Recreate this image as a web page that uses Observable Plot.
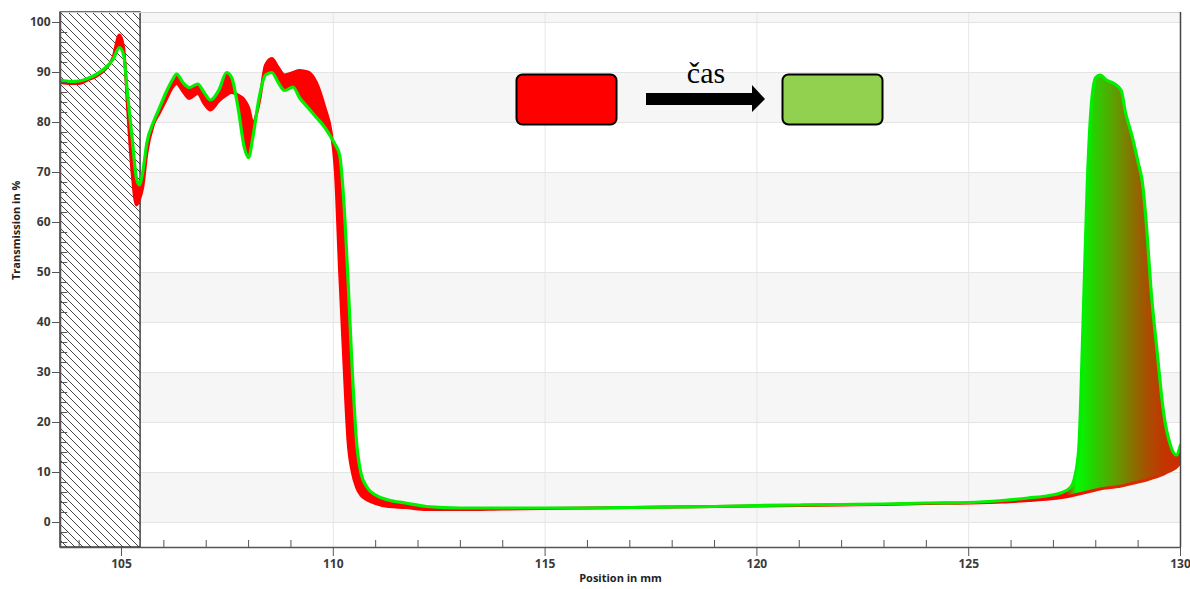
<!DOCTYPE html>
<html>
<head>
<meta charset="utf-8">
<script src="https://cdn.jsdelivr.net/npm/d3@7"></script>
<script src="https://cdn.jsdelivr.net/npm/@observablehq/plot@0.6"></script>
<style>
  html, body { margin: 0; padding: 0; background: #fff; }
  #wrap { position: relative; width: 1190px; height: 589px; }
  #overlay { position: absolute; left: 0; top: 0; pointer-events: none; }
</style>
</head>
<body>
<div id="wrap"></div>
<script>
// ---- data ----
const positionMm = [103.56, 103.8, 104.0, 104.2, 104.4, 104.6, 104.8, 104.95, 105.05, 105.15, 105.25, 105.35, 105.42,
  105.5, 105.6, 105.75, 105.9, 106.05, 106.2, 106.3, 106.45, 106.6, 106.8, 106.95, 107.1, 107.3, 107.48, 107.6, 107.75,
  107.9, 108.0, 108.1, 108.25, 108.4, 108.55, 108.7, 108.85, 109.05, 109.2, 109.4, 109.6, 109.8, 109.95, 110.05, 110.15,
  110.25, 110.35, 110.45, 110.55, 110.65, 110.8, 111.0, 111.3, 111.7, 112.2, 113, 114, 115, 116, 117, 118, 119, 120, 121,
  122, 123, 124, 125, 125.8, 126.4, 126.9, 127.2, 127.4, 127.5, 127.6, 127.7, 127.8, 127.9, 128.0, 128.1, 128.25, 128.45,
  128.6, 128.7, 128.85, 129.0, 129.1, 129.2, 129.3, 129.45, 129.6, 129.75, 129.9, 130.0];

// earliest measurement (red)
const earliest = [88, 87.8, 87.8, 88.5, 89.2, 90.5, 93, 97.5, 95, 82, 70, 63.5, 64.5,
  67, 74, 79.5, 82, 84.5, 87, 87.8, 86.2, 84.8, 85.8, 83.8, 82.5, 84.3, 85.5, 86, 85.5,
  84.5, 83, 80, 84, 91.5, 92.8, 91, 89.5, 90, 90.4, 90.1, 88, 83, 78, 70, 50,
  32, 16, 10, 7, 5.5, 4.5, 3.8, 3.2, 3.0, 2.6, 2.6, 2.7, 2.8, 2.9, 3.0, 3.1, 3.2, 3.3, 3.4,
  3.5, 3.6, 3.8, 3.9, 4.1, 4.4, 4.7, 5.0, 5.3, 5.5, 5.7, 5.9, 6.1, 6.3, 6.5, 6.7, 6.9, 7.1,
  7.3, 7.5, 7.8, 8.1, 8.3, 8.5, 8.8, 9.2, 9.7, 10.3, 11.0, 12.0];

// latest measurement (green)
const latest = [88.5, 88.2, 88.3, 88.8, 89.6, 90.8, 92.6, 95.0, 93.5, 85, 77, 69, 67.5,
  70, 76, 80, 83, 86, 88.5, 89.7, 88, 87, 87.7, 86, 84.5, 86.5, 90, 89, 83,
  75, 73, 77, 85, 89.5, 90, 88, 86.4, 87.1, 85, 83, 81, 79, 77, 75.5, 73.5,
  64, 48, 30, 16, 10, 7, 5.5, 4.5, 3.9, 3.2, 2.9, 2.9, 2.9, 2.9, 3.0, 3.1, 3.2, 3.4, 3.5,
  3.6, 3.7, 3.9, 4.0, 4.4, 4.9, 5.4, 6.0, 7.0, 9, 15, 40, 68, 84, 89, 89.5, 88.5, 87.7,
  86.4, 82, 77.5, 72, 68, 59, 47, 34, 22, 15.8, 13.5, 15.5];

const xTicks = [105, 110, 115, 120, 125, 130];
const yTicks = [0, 10, 20, 30, 40, 50, 60, 70, 80, 90, 100];
const xMinorTicks = [104, 106, 107, 108, 109, 111, 112, 113, 114, 116, 117, 118, 119, 121, 122, 123, 124, 126, 127, 128, 129];
const yMinorTicks = [-4, -2, 2, 4, 6, 8, 12, 14, 16, 18, 22, 24, 26, 28, 32, 34, 36, 38, 42, 44, 46, 48, 52, 54, 56, 58, 62, 64, 66, 68, 72, 74, 76, 78, 82, 84, 86, 88, 92, 94, 96, 98];
const bandStarts = [0, 20, 40, 60, 80, 100];
const maskedZone = [{from: 103.56, to: 105.45}];
const xDomain = [103.56, 130];
const yDomain = [-5, 102];

// colour ramp of the fan (position -> colour)
const fanStops = [[103.56, "#ff0000"], [127.3, "#ff0000"], [127.55, "#00ff00"], [127.9, "#1fd800"], [128.4, "#58a400"],
  [128.8, "#807a00"], [129.2, "#a65200"], [129.6, "#c23600"], [130, "#d02a00"]];

const rows = positionMm.map((p, i) => ({pos: p, early: earliest[i], late: latest[i]}));

const font = "'Open Sans', 'DejaVu Sans', sans-serif";

const plot = Plot.plot({
  width: 1190,
  height: 589,
  marginTop: 12,
  marginBottom: 42,
  marginLeft: 60,
  marginRight: 10,
  style: {fontFamily: font, fontSize: "12px", fontWeight: "700", color: "#3a3a3a", background: "#fff"},
  x: {domain: xDomain},
  y: {domain: yDomain},
  marks: [
    Plot.rect(bandStarts, {x1: xDomain[0], x2: xDomain[1], y1: d => d, y2: d => Math.min(d + 10, yDomain[1]), fill: "#f6f6f6"}),
    Plot.ruleY(yTicks, {stroke: "#e4e4e4", strokeWidth: 1}),
    Plot.ruleX([110, 115, 120, 125], {stroke: "#e6e6e6", strokeWidth: 1}),
    Plot.rect(maskedZone, {x1: "from", x2: "to", y1: yDomain[0], y2: yDomain[1], fill: "url(#hatch)", stroke: "#222", strokeWidth: 1.3}),
    Plot.areaY(rows, {x: "pos", y1: "early", y2: "late", fill: "url(#fanGrad)", curve: "monotone-x", clip: true}),
    Plot.line(rows, {x: "pos", y: "early", stroke: "url(#redGrad)", strokeWidth: 3, curve: "monotone-x", clip: true}),
    Plot.line(rows, {x: "pos", y: "late", stroke: "#00f000", strokeWidth: 3.2, curve: "monotone-x", clip: true}),
    Plot.ruleY([yDomain[1]], {stroke: "#d0d0d0"}),
    Plot.ruleX([xDomain[1]], {stroke: "#444", strokeWidth: 1.5}),
    Plot.ruleX([xDomain[0]], {stroke: "#555", strokeWidth: 1.5}),
    Plot.ruleY([yDomain[0]], {stroke: "#555", strokeWidth: 1.5}),
    Plot.ruleX(xMinorTicks, {y1: yDomain[0], y2: yDomain[0] + 1.4, stroke: "#555"}),
    Plot.ruleY(yMinorTicks, {x1: xDomain[0], x2: xDomain[0] + 0.17, stroke: "#555"}),
    Plot.axisX({ticks: xTicks, tickSize: 9, tickPadding: 3, label: null, stroke: "#555"}),
    Plot.axisY({ticks: yTicks, tickSize: 8, tickPadding: 2, label: null, stroke: "#555"}),
    Plot.text(["Position in mm"], {frameAnchor: "bottom", dy: 34, fontSize: 11, fontWeight: "bold", fill: "#222"}),
    Plot.text(["Transmission in %"], {frameAnchor: "left", dx: -44, rotate: -90, fontSize: 11, fontWeight: "bold", fill: "#222"})
  ]
});

// gradients and hatch pattern
const xs = plot.scale("x");
const gx1 = xs.apply(xDomain[0]), gx2 = xs.apply(xDomain[1]);
const stopHtml = fanStops.map(([v, c]) => `<stop offset="${((xs.apply(v) - gx1) / (gx2 - gx1)).toFixed(4)}" stop-color="${c}"/>`).join("");
const redStopHtml = [[103.56, "#ff0000"], [127.0, "#ff0000"], [128.5, "#e02800"], [130, "#cc3000"]]
  .map(([v, c]) => `<stop offset="${((xs.apply(v) - gx1) / (gx2 - gx1)).toFixed(4)}" stop-color="${c}"/>`).join("");
const defs = document.createElementNS("http://www.w3.org/2000/svg", "defs");
defs.innerHTML = `
  <linearGradient id="fanGrad" gradientUnits="userSpaceOnUse" x1="${gx1}" y1="0" x2="${gx2}" y2="0">${stopHtml}</linearGradient>
  <linearGradient id="redGrad" gradientUnits="userSpaceOnUse" x1="${gx1}" y1="0" x2="${gx2}" y2="0">${redStopHtml}</linearGradient>
  <pattern id="hatch" patternUnits="userSpaceOnUse" width="8" height="8">
    <rect width="8" height="8" fill="#fff"/>
    <path d="M-1,-1 L9,9 M-1,7 L1,9 M7,-1 L9,1" stroke="#444" stroke-width="1"/>
  </pattern>`;
plot.insertBefore(defs, plot.firstChild);

const wrap = document.getElementById("wrap");
wrap.appendChild(plot);

// time legend (annotation)
const overlay = document.createElementNS("http://www.w3.org/2000/svg", "svg");
overlay.setAttribute("id", "overlay");
overlay.setAttribute("width", 1190);
overlay.setAttribute("height", 589);
overlay.innerHTML = `
  <rect x="516.5" y="74.5" width="100" height="50" rx="6" fill="#ff0000" stroke="#000" stroke-width="2"/>
  <polygon points="646,93 752,93 752,85 765,99 752,112 752,105 646,105" fill="#000"/>
  <text x="706" y="83" text-anchor="middle" font-family="'Liberation Serif', 'DejaVu Serif', serif" font-size="30">čas</text>
  <rect x="782.5" y="74.5" width="100" height="50" rx="6" fill="#92d050" stroke="#000" stroke-width="2"/>`;
wrap.appendChild(overlay);
</script>
</body>
</html>
